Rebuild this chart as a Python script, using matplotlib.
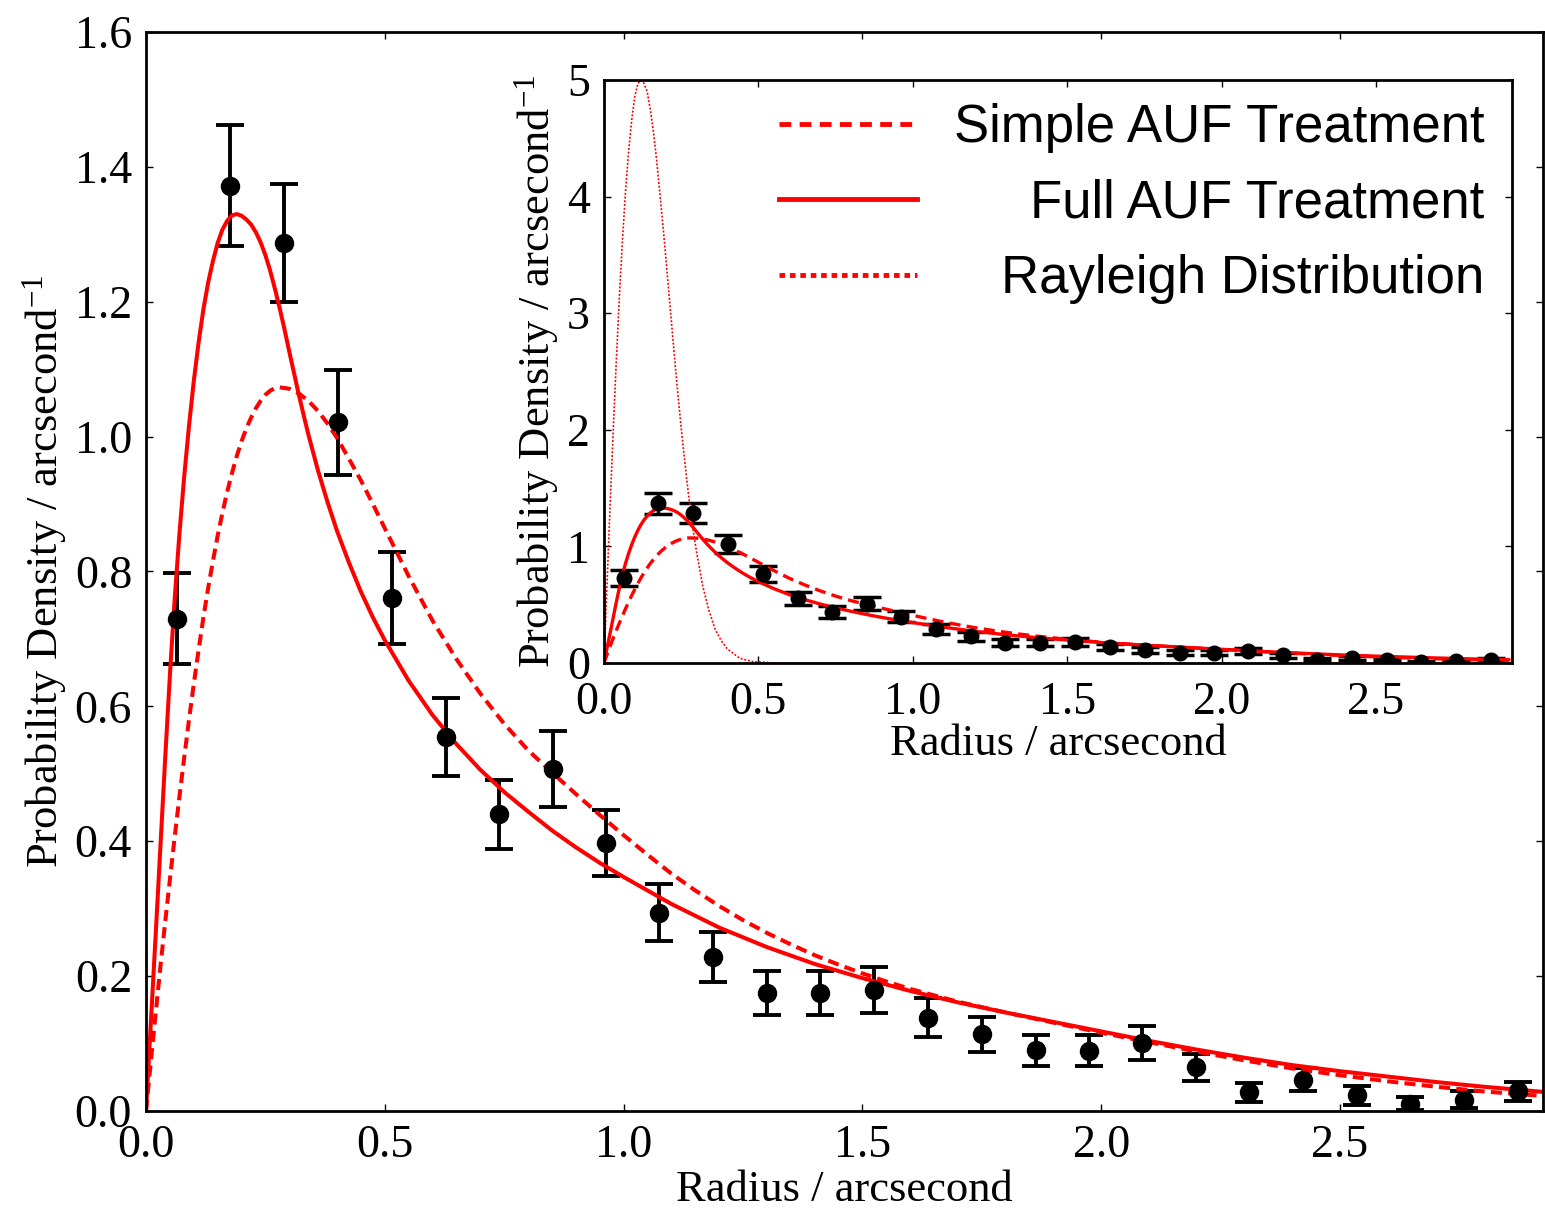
import matplotlib.pyplot as plt
from matplotlib.lines import Line2D

# Binned data with error bars
radius = [0.065, 0.176, 0.289, 0.402, 0.515, 0.628, 0.739, 0.852, 0.963, 1.074,
          1.187, 1.300, 1.411, 1.525, 1.638, 1.751, 1.864, 1.975, 2.086, 2.199,
          2.310, 2.423, 2.536, 2.647, 2.760, 2.873]
density = [0.730, 1.372, 1.287, 1.021, 0.761, 0.554, 0.440, 0.507, 0.397, 0.294,
           0.228, 0.175, 0.175, 0.180, 0.138, 0.114, 0.090, 0.089, 0.101, 0.065,
           0.028, 0.046, 0.023, 0.011, 0.017, 0.029]
density_err = [0.067, 0.090, 0.088, 0.078, 0.068, 0.058, 0.051, 0.056, 0.049, 0.042,
               0.037, 0.033, 0.033, 0.034, 0.029, 0.026, 0.023, 0.023, 0.025, 0.020,
               0.014, 0.017, 0.014, 0.010, 0.012, 0.014]

# Full AUF treatment curve
r_full = [0.00, 0.01, 0.02, 0.03, 0.04, 0.05, 0.06, 0.07, 0.08, 0.09, 0.10, 0.11,
          0.12, 0.13, 0.14, 0.15, 0.16, 0.17, 0.18, 0.19, 0.20, 0.21, 0.22, 0.23,
          0.24, 0.25, 0.26, 0.27, 0.28, 0.29, 0.30, 0.31, 0.32, 0.33, 0.34, 0.36,
          0.38, 0.40, 0.425, 0.45, 0.475, 0.50, 0.55, 0.60, 0.65, 0.70, 0.75, 0.80,
          0.85, 0.90, 0.95, 1.00, 1.10, 1.20, 1.30, 1.40, 1.50, 1.60, 1.70, 1.80,
          1.90, 2.00, 2.10, 2.20, 2.30, 2.40, 2.50, 2.60, 2.70, 2.80, 2.93]
full_auf = [0.000, 0.129, 0.258, 0.390, 0.521, 0.646, 0.759, 0.856, 0.941, 1.016, 1.082, 1.139,
            1.188, 1.228, 1.260, 1.287, 1.307, 1.320, 1.328, 1.330, 1.3275, 1.322, 1.3146, 1.303,
            1.288, 1.269, 1.246, 1.219, 1.190, 1.159, 1.126, 1.094, 1.062, 1.032, 1.003, 0.950,
            0.903, 0.860, 0.813, 0.770, 0.732, 0.698, 0.638, 0.587, 0.544, 0.506, 0.473, 0.444,
            0.416, 0.391, 0.368, 0.347, 0.307, 0.272, 0.243, 0.218, 0.197, 0.178, 0.161, 0.146,
            0.132, 0.118, 0.104, 0.091, 0.079, 0.068, 0.059, 0.051, 0.043, 0.036, 0.028]

# Simple AUF treatment curve
r_simple = [0.00, 0.01, 0.02, 0.03, 0.04, 0.05, 0.06, 0.07, 0.08, 0.09, 0.10, 0.11,
            0.12, 0.13, 0.14, 0.15, 0.16, 0.17, 0.18, 0.19, 0.20, 0.21, 0.22, 0.23,
            0.24, 0.25, 0.26, 0.27, 0.28, 0.30, 0.32, 0.34, 0.36, 0.38, 0.40, 0.425,
            0.45, 0.475, 0.50, 0.55, 0.60, 0.65, 0.70, 0.75, 0.80, 0.85, 0.90, 0.95,
            1.00, 1.05, 1.10, 1.15, 1.20, 1.25, 1.30, 1.35, 1.40, 1.45, 1.50, 1.55,
            1.60, 1.70, 1.80, 1.90, 2.00, 2.10, 2.20, 2.30, 2.40, 2.50, 2.60, 2.70,
            2.80, 2.93]
simple_auf = [0.000, 0.072, 0.143, 0.213, 0.279, 0.343, 0.406, 0.466, 0.524, 0.580, 0.633, 0.683,
              0.731, 0.775, 0.815, 0.853, 0.887, 0.918, 0.946, 0.971, 0.993, 1.012, 1.028, 1.042,
              1.053, 1.062, 1.068, 1.072, 1.073, 1.071, 1.064, 1.053, 1.038, 1.0195, 0.998, 0.967,
              0.935, 0.900, 0.864, 0.793, 0.727, 0.670, 0.619, 0.574, 0.535, 0.502, 0.470, 0.439,
              0.409, 0.380, 0.352, 0.327, 0.304, 0.283, 0.264, 0.247, 0.231, 0.217, 0.204, 0.192,
              0.181, 0.162, 0.146, 0.131, 0.116, 0.102, 0.088, 0.075, 0.063, 0.053, 0.044, 0.036,
              0.029, 0.022]

# Rayleigh distribution (inset only)
r_rayleigh = [0.00, 0.01, 0.02, 0.03, 0.04, 0.05, 0.06, 0.07, 0.08, 0.09, 0.10, 0.11,
              0.12, 0.13, 0.14, 0.15, 0.16, 0.17, 0.18, 0.19, 0.20, 0.21, 0.22, 0.23,
              0.24, 0.25, 0.26, 0.27, 0.28, 0.29, 0.30, 0.32, 0.34, 0.36, 0.38, 0.40,
              0.44, 0.48, 0.55, 0.60, 2.93]
rayleigh = [0.00, 0.68, 1.35, 1.99, 2.59, 3.14, 3.63, 4.05, 4.39, 4.66, 4.86, 4.97,
            5.00, 4.97, 4.90, 4.75, 4.56, 4.33, 4.06, 3.78, 3.49, 3.18, 2.88, 2.58,
            2.29, 2.02, 1.77, 1.53, 1.31, 1.12, 0.95, 0.66, 0.45, 0.29, 0.19, 0.12,
            0.04, 0.013, 0.001, 0.0, 0.0]

legend_labels = ['Simple AUF Treatment', 'Full AUF Treatment', 'Rayleigh Distribution']

plt.rcParams['font.family'] = ['Liberation Serif', 'DejaVu Serif']
plt.rcParams['mathtext.fontset'] = 'custom'
plt.rcParams['mathtext.rm'] = 'Liberation Serif'
plt.rcParams['mathtext.it'] = 'Liberation Serif:italic'
plt.rcParams['lines.scale_dashes'] = False

fig = plt.figure(figsize=(15.45, 12.11), dpi=100)
ax = fig.add_axes([0.0945, 0.0826, 0.9042, 0.891])
ax_in = fig.add_axes([0.3909, 0.4525, 0.5877, 0.4814])

dash_main = (8, 4.5)
dot_style = (1.4, 1.3)

for a, ms, elw, lw in [(ax, 13, 2.8, 2.9), (ax_in, 10.5, 2.5, 2.4)]:
    a.errorbar(radius, density, yerr=density_err, fmt='o', color='black',
               ms=ms, capsize=10, elinewidth=elw, capthick=elw)
    a.plot(r_simple, simple_auf, color='red', lw=lw, dashes=dash_main)
    a.plot(r_full, full_auf, color='red', lw=lw)

ax_in.plot(r_rayleigh, rayleigh, color='red', lw=1.2, dashes=dot_style)

# Axes
ax.set_xlim(0, 2.925)
ax.set_ylim(0, 1.6)
ax.set_xticks([0.0, 0.5, 1.0, 1.5, 2.0, 2.5])
ax.set_xticklabels(['0.0', '0.5', '1.0', '1.5', '2.0', '2.5'])
ax.set_yticks([0.0, 0.2, 0.4, 0.6, 0.8, 1.0, 1.2, 1.4, 1.6])
ax.set_yticklabels(['0.0', '0.2', '0.4', '0.6', '0.8', '1.0', '1.2', '1.4', '1.6'])

ax_in.set_xlim(0, 2.94)
ax_in.set_ylim(0, 5)
ax_in.set_xticks([0.0, 0.5, 1.0, 1.5, 2.0, 2.5])
ax_in.set_xticklabels(['0.0', '0.5', '1.0', '1.5', '2.0', '2.5'])
ax_in.set_yticks([0, 1, 2, 3, 4, 5])

for a in (ax, ax_in):
    a.set_xlabel('Radius / arcsecond', fontsize=32, labelpad=2)
    a.set_ylabel('Probability Density / arcsecond$^{-1}$', fontsize=32, labelpad=4)
    a.tick_params(direction='in', top=True, right=True, length=5, width=1,
                  labelsize=33, pad=10)
    for s in a.spines.values():
        s.set_linewidth(2)

# a bit more room so the inset's corner labels do not touch
ax_in.tick_params(axis='x', pad=13)
ax_in.set_xlabel('Radius / arcsecond', fontsize=32, labelpad=0)

# Legend with proxy handles and right-aligned text
handles = [Line2D([], [], color='red', lw=3.5, dashes=(8.5, 6)),
           Line2D([], [], color='red', lw=3.5),
           Line2D([], [], color='red', lw=3.5, dashes=(4, 3.5))]
leg = ax_in.legend(handles, legend_labels, loc='upper right', bbox_to_anchor=(0.97, 0.96),
                   frameon=False, borderpad=0, borderaxespad=0,
                   handlelength=2.62, handletextpad=0.70, labelspacing=0.48,
                   prop={'family': 'Liberation Sans', 'size': 38})

fig.canvas.draw()
renderer = fig.canvas.get_renderer()
widths = [t.get_window_extent(renderer).width for t in leg.get_texts()]
rows = leg._legend_handle_box.get_children()[0].get_children()
for row, w in zip(rows, widths):
    row.sep = row.sep + (max(widths) - w) * 72 / fig.dpi

fig.savefig('out.png', dpi=100)
